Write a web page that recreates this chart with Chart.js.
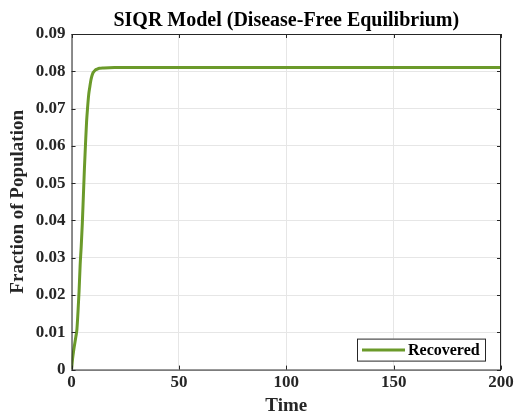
<!DOCTYPE html>
<html>
<head>
<meta charset="utf-8">
<script src="https://cdn.jsdelivr.net/npm/chart.js@4/dist/chart.umd.min.js"></script>
<style>
  html, body { margin: 0; padding: 0; background: #fff; }
  #wrap { width: 515px; height: 416px; }
</style>
</head>
<body>
<div id="wrap"><canvas id="chart"></canvas></div>
<script>
// values
const timePoints = [0, 0.5, 1, 2, 2.5, 3, 3.5, 4, 4.5, 5, 5.5, 6, 6.5, 7, 7.5, 8, 8.5, 9, 9.5, 10, 11, 12, 13, 15, 20, 50, 100, 150, 200];
const recovered = [0, 0.003, 0.0052, 0.0088, 0.0108, 0.0155, 0.021, 0.028, 0.033, 0.039, 0.0465, 0.054, 0.0605, 0.0665, 0.0705, 0.0738, 0.0758, 0.0776, 0.0788, 0.0796, 0.0803, 0.0806, 0.0808, 0.0809, 0.081, 0.081, 0.081, 0.081, 0.081];
const xTicks = [0, 50, 100, 150, 200];
const yTicks = [0, 0.01, 0.02, 0.03, 0.04, 0.05, 0.06, 0.07, 0.08, 0.09];
const chartTitle = "SIQR Model (Disease-Free Equilibrium)";

const lineColor = "#6b9a2a";
const serif = "'Liberation Serif', 'Times New Roman', serif";

const points = timePoints.map((t, i) => ({ x: t, y: recovered[i] }));

// box around the axes, inward ticks, title over the axes and legend inside bottom-right, like matlab
const boxPlugin = {
  id: "boxPlugin",
  afterDraw(chart) {
    const { ctx, chartArea: a, scales } = chart;
    ctx.save();
    ctx.strokeStyle = "#262626";
    ctx.lineWidth = 1;
    ctx.strokeRect(a.left + 0.5, a.top + 0.5, a.right - a.left - 1, a.bottom - a.top);
    ctx.beginPath();
    xTicks.forEach(v => {
      const px = Math.round(scales.x.getPixelForValue(v)) + 0.5;
      ctx.moveTo(px, a.bottom); ctx.lineTo(px, a.bottom - 4);
      ctx.moveTo(px, a.top); ctx.lineTo(px, a.top + 4);
    });
    yTicks.forEach(v => {
      const py = Math.round(scales.y.getPixelForValue(v)) + 0.5;
      ctx.moveTo(a.left, py); ctx.lineTo(a.left + 4, py);
      ctx.moveTo(a.right, py); ctx.lineTo(a.right - 4, py);
    });
    ctx.stroke();

    // title
    ctx.fillStyle = "#000";
    ctx.font = "bold 20px " + serif;
    ctx.textAlign = "center";
    ctx.textBaseline = "alphabetic";
    ctx.fillText(chartTitle, (a.left + a.right) / 2, 26);

    // legend
    const w = 128, h = 22;
    const lx = a.right - 16 - w, ly = a.bottom - 9 - h;
    ctx.fillStyle = "#fff";
    ctx.fillRect(lx, ly, w, h);
    ctx.strokeStyle = "#262626";
    ctx.strokeRect(lx + 0.5, ly + 0.5, w, h);
    ctx.strokeStyle = lineColor;
    ctx.lineWidth = 3;
    ctx.beginPath();
    ctx.moveTo(lx + 5, ly + h / 2 + 0.5);
    ctx.lineTo(lx + 48, ly + h / 2 + 0.5);
    ctx.stroke();
    ctx.fillStyle = "#000";
    ctx.font = "bold 16px " + serif;
    ctx.textAlign = "left";
    ctx.textBaseline = "middle";
    ctx.fillText(chart.data.datasets[0].label, lx + 51, ly + h / 2 + 1);
    ctx.restore();
  }
};

new Chart(document.getElementById("chart"), {
  type: "line",
  data: {
    datasets: [{
      label: "Recovered",
      data: points,
      borderColor: lineColor,
      backgroundColor: lineColor,
      borderWidth: 3,
      pointRadius: 0,
      cubicInterpolationMode: "monotone"
    }]
  },
  options: {
    responsive: true,
    maintainAspectRatio: false,
    animation: false,
    layout: { padding: { top: 34, right: 14, left: 7, bottom: 1 } },
    plugins: {
      legend: { display: false },
      tooltip: { enabled: false },
      title: { display: false }
    },
    scales: {
      x: {
        type: "linear",
        min: 0,
        max: 200,
        afterBuildTicks: s => { s.ticks = xTicks.map(v => ({ value: v })); },
        afterFit: s => { s.paddingRight = 0; s.paddingLeft = 0; },
        ticks: { color: "#262626", font: { family: serif, size: 17, weight: "bold" }, padding: 3 },
        grid: { color: "#e6e6e6", tickLength: 0, drawTicks: false },
        border: { display: false },
        title: {
          display: true,
          text: "Time",
          color: "#262626",
          font: { family: serif, size: 19, weight: "bold", lineHeight: 1 },
          padding: { top: 1, bottom: -1 }
        }
      },
      y: {
        min: 0,
        max: 0.09,
        afterBuildTicks: s => { s.ticks = yTicks.map(v => ({ value: v })); },
        afterFit: s => { s.paddingTop = 0; s.paddingBottom = 0; },
        ticks: {
          color: "#262626",
          font: { family: serif, size: 17, weight: "bold" },
          padding: 6,
          callback: v => (v === 0 ? "0" : v.toFixed(2))
        },
        grid: { color: "#e6e6e6", tickLength: 0, drawTicks: false },
        border: { display: false },
        title: {
          display: true,
          text: "Fraction of Population",
          color: "#262626",
          font: { family: serif, size: 19, weight: "bold" },
          padding: { top: 0, bottom: 0 }
        }
      }
    }
  },
  plugins: [boxPlugin]
});
</script>
</body>
</html>
